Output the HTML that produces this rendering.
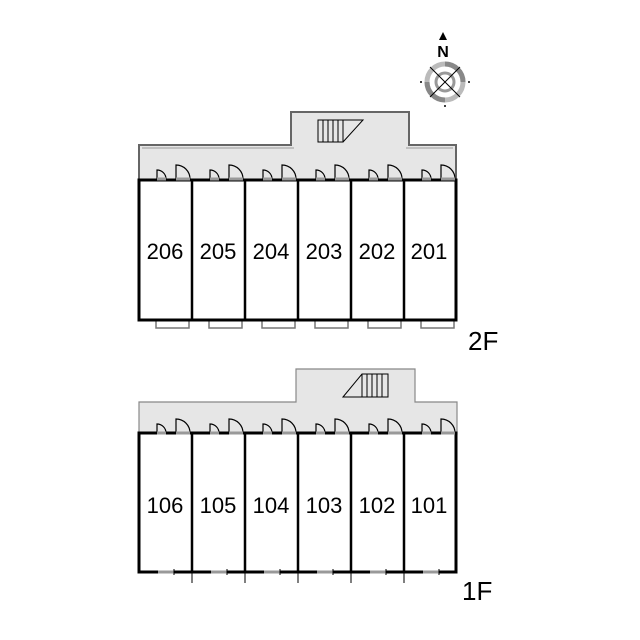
<!DOCTYPE html>
<html><head><meta charset="utf-8"><style>
html,body{margin:0;padding:0;background:#fff;}
svg{display:block;}
text{font-family:"Liberation Sans",sans-serif;}
</style></head><body>
<svg width="640" height="640" viewBox="0 0 640 640" xmlns="http://www.w3.org/2000/svg">
<defs>
<g id="doors">
  <path d="M157 179 V170 A9 9 0 0 1 166 179" fill="none" stroke="#000" stroke-width="1.2"/>
  <line x1="157" y1="179" x2="166" y2="179" stroke="#999" stroke-width="3"/>
  <path d="M176 179 V165 A14 14 0 0 1 190 179" fill="none" stroke="#000" stroke-width="1.2"/>
  <line x1="176" y1="179" x2="190" y2="179" stroke="#999" stroke-width="3"/>
</g>
<g id="balc">
  <rect x="156" y="320" width="33" height="8" fill="#fff" stroke="#777" stroke-width="1.5"/>
  <line x1="157" y1="320" x2="172" y2="320" stroke="#888" stroke-width="3"/>
  <line x1="172" y1="316" x2="172" y2="320" stroke="#000" stroke-width="1"/>
</g>
<g id="win1">
  <line x1="158" y1="572" x2="174" y2="572" stroke="#999" stroke-width="3"/>
  <line x1="174" y1="569" x2="174" y2="575" stroke="#000" stroke-width="1"/>
</g>
</defs>

<g transform="translate(445,82)">
  <circle r="18" fill="none" stroke="#bbb" stroke-width="5"/>
  <path d="M0 -18 A18 18 0 0 1 18 0" fill="none" stroke="#888" stroke-width="5"/>
  <path d="M0 18 A18 18 0 0 1 -18 0" fill="none" stroke="#888" stroke-width="5"/>
  <circle r="9" fill="none" stroke="#999" stroke-width="3"/>
  <line x1="-15" y1="-15" x2="15" y2="15" stroke="#000" stroke-width="1"/>
  <line x1="15" y1="-15" x2="-15" y2="15" stroke="#000" stroke-width="1"/>
  <circle cx="-24" cy="0" r="1" fill="#000"/><circle cx="24" cy="0" r="1" fill="#000"/>
  <circle cx="0" cy="24" r="1" fill="#000"/>
</g>
<polygon points="443,32 439,40 447,40" fill="#000"/>
<text x="443" y="57" font-size="16" font-weight="bold" font-family="Liberation Serif" text-anchor="middle">N</text>

<path d="M139 145 H291 V112 H409 V145 H456 V180 H139 Z" fill="#e6e6e6" stroke="#666" stroke-width="2"/>
<path d="M142 148 H294 M406 148 H453" stroke="#999" stroke-width="1" fill="none"/>
<rect x="318" y="120" width="25" height="22" fill="none" stroke="#000" stroke-width="1"/>
<path d="M343 142 L363 120 H343 M323 120 V142 M328 120 V142 M333 120 V142 M338 120 V142" fill="none" stroke="#000" stroke-width="1"/>
<use href="#balc"/><use href="#balc" transform="translate(53,0)"/><use href="#balc" transform="translate(106,0)"/><use href="#balc" transform="translate(159,0)"/><use href="#balc" transform="translate(212,0)"/><use href="#balc" transform="translate(265,0)"/>
<rect x="139" y="180" width="317" height="140" fill="#fff" stroke="#000" stroke-width="3"/>
<path d="M192 180 V320 M245 180 V320 M298 180 V320 M351 180 V320 M404 180 V320" stroke="#000" stroke-width="2.5"/>
<use href="#doors"/><use href="#doors" transform="translate(53,0)"/><use href="#doors" transform="translate(106,0)"/><use href="#doors" transform="translate(159,0)"/><use href="#doors" transform="translate(212,0)"/><use href="#doors" transform="translate(265,0)"/>
<g font-size="22" text-anchor="middle">
<text x="165" y="259">206</text><text x="218" y="259">205</text><text x="271" y="259">204</text><text x="324" y="259">203</text><text x="377" y="259">202</text><text x="429" y="259">201</text>
</g>
<text x="468" y="350" font-size="26">2F</text>

<path d="M139 402 H296 V369 H415 V402 H457 V434 H139 Z" fill="#e6e6e6" stroke="#888" stroke-width="1.2"/>
<path d="M343 397 L362 374 H388 V397 Z M362 374 V397 M367 374 V397 M372 374 V397 M377 374 V397 M382 374 V397" fill="none" stroke="#000" stroke-width="1"/>
<path d="M192 572 V583 M245 572 V583 M298 572 V583 M351 572 V583 M404 572 V583" stroke="#000" stroke-width="1"/>
<rect x="139" y="433" width="317" height="139" fill="#fff" stroke="#000" stroke-width="3"/>
<path d="M192 433 V572 M245 433 V572 M298 433 V572 M351 433 V572 M404 433 V572" stroke="#000" stroke-width="2.5"/>
<g transform="translate(0,254)">
<use href="#doors"/><use href="#doors" transform="translate(53,0)"/><use href="#doors" transform="translate(106,0)"/><use href="#doors" transform="translate(159,0)"/><use href="#doors" transform="translate(212,0)"/><use href="#doors" transform="translate(265,0)"/>
</g>
<use href="#win1"/><use href="#win1" transform="translate(53,0)"/><use href="#win1" transform="translate(106,0)"/><use href="#win1" transform="translate(159,0)"/><use href="#win1" transform="translate(212,0)"/><use href="#win1" transform="translate(265,0)"/>
<g font-size="22" text-anchor="middle">
<text x="165" y="513">106</text><text x="218" y="513">105</text><text x="271" y="513">104</text><text x="324" y="513">103</text><text x="377" y="513">102</text><text x="429" y="513">101</text>
</g>
<text x="462" y="600" font-size="26">1F</text>
</svg>
</body></html>
